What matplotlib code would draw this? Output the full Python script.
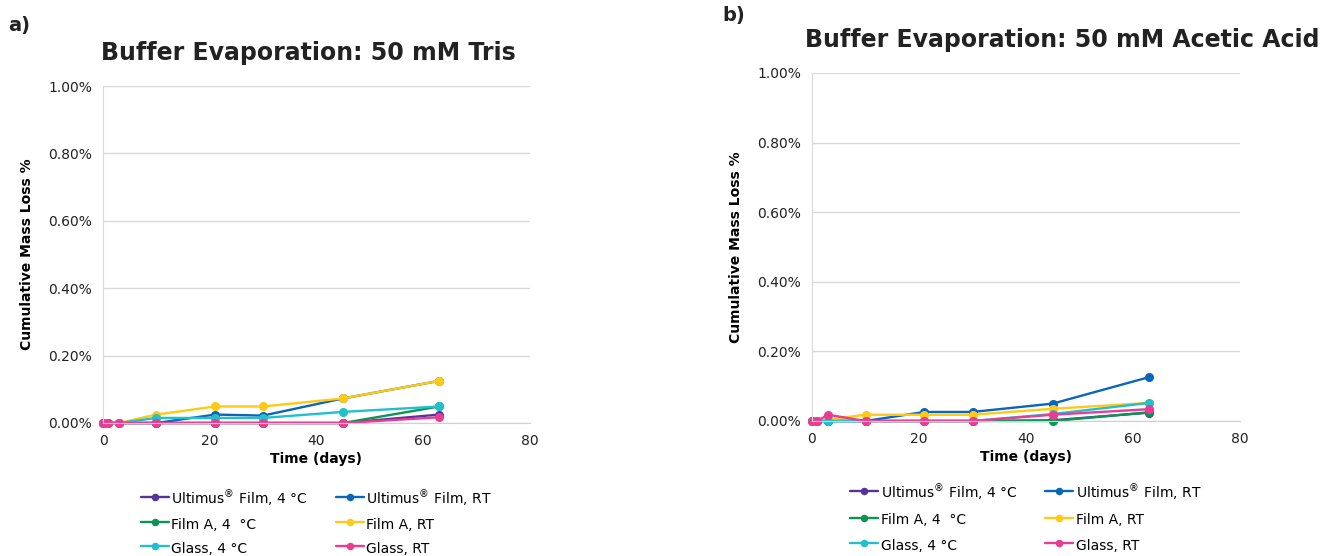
import numpy as np
import matplotlib
matplotlib.use("Agg")
import matplotlib.pyplot as plt
from matplotlib.ticker import PercentFormatter

plt.rcParams['font.family'] = ['DejaVu Sans']

days = [0, 1, 3, 10, 21, 30, 45, 63]
sup = r"$^{\mathrm{®}}$"
series_names = ["Ultimus" + sup + " Film, 4 °C", "Ultimus" + sup + " Film, RT",
                "Film A, 4  °C", "Film A, RT", "Glass, 4 °C", "Glass, RT"]
colors = ["#55339a", "#0a66b8", "#0b9455", "#ffc915", "#22bfcd", "#ea3c93"]

# cumulative mass loss (%), 50 mM Tris
tris_ult_4c = [0, 0, 0, 0, 0, 0, 0, 0.025]
tris_ult_rt = [0, 0, 0, 0, 0.025, 0.022, 0.073, 0.125]
tris_filma_4c = [0, 0, 0, 0, 0, 0, 0, 0.049]
tris_filma_rt = [0, 0, 0, 0.025, 0.049, 0.049, 0.073, 0.125]
tris_glass_4c = [0, 0, 0, 0.015, 0.015, 0.015, 0.033, 0.049]
tris_glass_rt = [0, 0, 0, 0, 0, 0, 0, 0.017]

# cumulative mass loss (%), 50 mM Acetic Acid
acet_ult_4c = [0, 0, 0, 0, 0, 0, 0.002, 0.024]
acet_ult_rt = [0, 0, 0, 0, 0.026, 0.026, 0.050, 0.126]
acet_filma_4c = [0, 0, 0, 0, 0, 0, 0, 0.025]
acet_filma_rt = [0, 0, 0.004, 0.018, 0.018, 0.018, 0.035, 0.052]
acet_glass_4c = [0, 0, 0, 0, 0, 0, 0.020, 0.052]
acet_glass_rt = [0, 0, 0.018, 0, 0, 0, 0.018, 0.034]

tris = [tris_ult_4c, tris_ult_rt, tris_filma_4c, tris_filma_rt, tris_glass_4c, tris_glass_rt]
acet = [acet_ult_4c, acet_ult_rt, acet_filma_4c, acet_filma_rt, acet_glass_4c, acet_glass_rt]

W, H = 1324, 556
fig = plt.figure(figsize=(W / 100, H / 100), dpi=100)


def panel(rect_px, data, title, title_x, letter, letter_xy, leg_y, leg_sp):
    x0, y0, x1, y1 = rect_px
    ax = fig.add_axes([x0 / W, 1 - y1 / H, (x1 - x0) / W, (y1 - y0) / H])
    lines = []
    for vals, c, name in zip(data, colors, series_names):
        ln, = ax.plot(days, vals, color=c, lw=1.7, marker="o", ms=5.5, label=name,
                      solid_capstyle="round", clip_on=False)
        lines.append(ln)
    ax.set_xlim(0, 80)
    ax.set_ylim(0, 1.0)
    ax.set_xticks([0, 20, 40, 60, 80])
    ax.set_yticks(np.arange(0, 1.01, 0.2))
    ax.yaxis.set_major_formatter(PercentFormatter(decimals=2))
    ax.tick_params(length=0, labelsize=10, colors="#222222", pad=8)
    ax.grid(axis="y", color="#d9d9d9", lw=1)
    ax.set_axisbelow(True)
    for s in ["top", "right"]:
        ax.spines[s].set_visible(False)
    ax.spines["left"].set_color("#d9d9d9")
    ax.spines["bottom"].set_color("#d0d0d0")
    ax.set_xlabel("Time (days)", fontsize=10, fontweight="bold", labelpad=3)
    ax.set_ylabel("Cumulative Mass Loss %", fontsize=10, fontweight="bold", labelpad=10)
    ax.set_title(title, fontsize=17, fontweight="bold", pad=19, color="#222222", x=title_x)
    # Excel fills legend row by row; tall handles keep the rows evenly spaced
    order = [0, 2, 4, 1, 3, 5]
    ax.legend([lines[i] for i in order], [series_names[i] for i in order],
              loc="upper center", bbox_to_anchor=(0.5, leg_y), ncol=2, frameon=False,
              fontsize=10, handlelength=2.0, handleheight=1.5, handletextpad=0.2,
              labelspacing=leg_sp, columnspacing=2.0, markerscale=0.8, borderpad=0.2)
    fig.text(letter_xy[0] / W, 1 - letter_xy[1] / H, letter, fontsize=14,
             fontweight="bold", va="center", ha="left", color="#222222")
    return ax


panel((103, 86, 530, 423), tris, "Buffer Evaporation: 50 mM Tris", 0.48,
      "a)", (8, 25), -0.165, 0.5)
panel((812, 73, 1240, 421), acet, "Buffer Evaporation: 50 mM Acetic Acid", 0.585,
      "b)", (722, 15), -0.148, 0.62)

fig.savefig("out.png", dpi=100)
